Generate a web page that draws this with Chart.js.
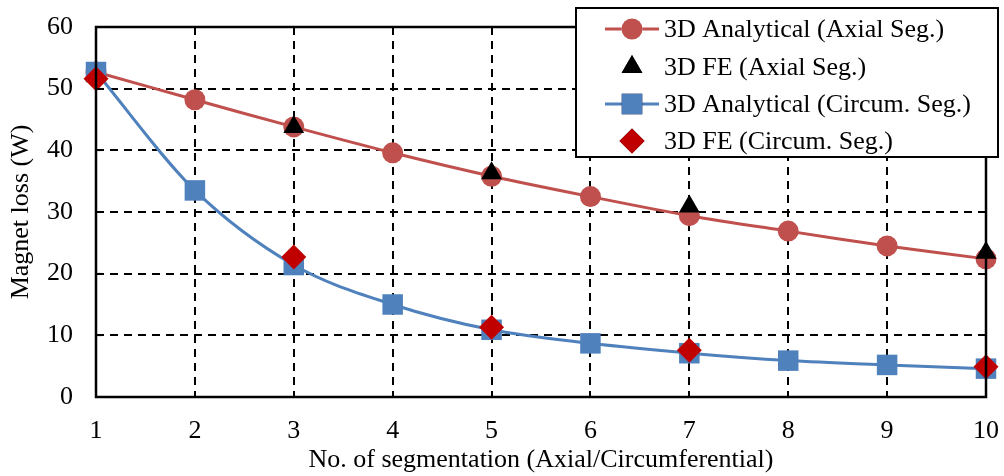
<!DOCTYPE html>
<html>
<head>
<meta charset="utf-8">
<script src="https://cdn.jsdelivr.net/npm/chart.js@4.4.1/dist/chart.umd.min.js"></script>
<style>
  html, body { margin: 0; padding: 0; background: #fff; }
  #wrap { width: 1004px; height: 476px; }
</style>
</head>
<body>
<div id="wrap"><canvas id="lossChart" width="1004" height="476"></canvas></div>
<script>
const segments = [1, 2, 3, 4, 5, 6, 7, 8, 9, 10];
const analyticalAxial = [52.7, 48.2, 43.8, 39.6, 35.8, 32.5, 29.4, 26.9, 24.5, 22.4];
const feAxialSegs = [3, 5, 7, 10];
const feAxial = [43.8, 36.3, 30.9, 23.4];
const analyticalCircum = [52.7, 33.5, 21.4, 15.0, 10.9, 8.7, 7.1, 5.9, 5.2, 4.6];
const feCircumSegs = [1, 3, 5, 7, 10];
const feCircum = [51.6, 22.7, 11.3, 7.6, 4.9];
const yTicks = [0, 10, 20, 30, 40, 50, 60];

const FONT = '"Liberation Serif", "Times New Roman", serif';

function pairs(xs, ys) {
    return xs.map((x, i) => ({ x: x, y: ys[i] }));
}

function noOverflow(scale) {
    scale.paddingTop = 0;
    scale.paddingBottom = 0;
    scale.paddingLeft = 0;
    scale.paddingRight = 0;
}

// box round the plot area and the legend drawn on top of it
const framePlugin = {
    id: 'frame',
    afterDatasetsDraw(chart) {
        const a = chart.chartArea;
        const ctx = chart.ctx;
        ctx.save();
        ctx.strokeStyle = '#000';
        ctx.lineWidth = 2.5;
        ctx.strokeRect(a.left, a.top, a.right - a.left, a.bottom - a.top);
        // small inward ticks on the value axis
        ctx.lineWidth = 1.5;
        chart.scales.y.ticks.forEach(t => {
            const y = chart.scales.y.getPixelForValue(t.value);
            ctx.beginPath();
            ctx.moveTo(a.left, y);
            ctx.lineTo(a.left + 6, y);
            ctx.stroke();
        });
        ctx.restore();
    },
    afterDraw(chart) {
        const ctx = chart.ctx;
        const box = { x: 576, y: 8, w: 422, h: 149 };
        ctx.save();
        ctx.fillStyle = '#fff';
        ctx.fillRect(box.x, box.y, box.w, box.h);
        ctx.strokeStyle = '#000';
        ctx.lineWidth = 2;
        ctx.strokeRect(box.x, box.y, box.w, box.h);
        ctx.font = '26px ' + FONT;
        ctx.textBaseline = 'middle';
        const rowY = [29, 67, 104, 141];
        chart.data.datasets.forEach((ds, i) => {
            const y = rowY[i];
            if (ds.showLine !== false) {
                ctx.strokeStyle = ds.borderColor;
                ctx.lineWidth = 3;
                ctx.beginPath();
                ctx.moveTo(605, y);
                ctx.lineTo(659, y);
                ctx.stroke();
            }
            Chart.helpers.drawPoint(ctx, {
                pointStyle: ds.pointStyle,
                radius: ds.pointRadius,
                borderWidth: 0
            }, 632, y);
            ctx.fillStyle = ds.pointBackgroundColor;
            ctx.fill();
            ctx.fillStyle = '#000';
            ctx.fillText(ds.label, 664, y + 1);
        });
        ctx.restore();
    }
};

const ctx = document.getElementById('lossChart').getContext('2d');
const myChart = new Chart(ctx, {
    type: 'line',
    data: {
        datasets: [{
            label: '3D Analytical (Axial Seg.)',
            data: pairs(segments, analyticalAxial),
            borderColor: '#C0504D',
            pointBackgroundColor: '#C0504D',
            pointBorderWidth: 0,
            pointStyle: 'circle',
            pointRadius: 10.5,
            borderWidth: 3,
            tension: 0.3,
            order: 4
        }, {
            label: '3D FE (Axial Seg.)',
            data: pairs(feAxialSegs, feAxial),
            showLine: false,
            borderColor: '#000',
            pointBackgroundColor: '#000',
            pointBorderWidth: 0,
            pointStyle: 'triangle',
            pointRadius: 12,
            order: 2
        }, {
            label: '3D Analytical (Circum. Seg.)',
            data: pairs(segments, analyticalCircum),
            borderColor: '#4F81BD',
            pointBackgroundColor: '#4F81BD',
            pointBorderWidth: 0,
            pointStyle: 'rect',
            pointRadius: 14.5,
            borderWidth: 3,
            cubicInterpolationMode: 'monotone',
            order: 3
        }, {
            label: '3D FE (Circum. Seg.)',
            data: pairs(feCircumSegs, feCircum),
            showLine: false,
            borderColor: '#C00000',
            pointBackgroundColor: '#C00000',
            pointBorderWidth: 0,
            pointStyle: 'rectRot',
            pointRadius: 12.5,
            order: 1
        }]
    },
    options: {
        responsive: false,
        animation: false,
        clip: false,
        layout: { padding: { left: 0, top: 27, right: 18, bottom: 0 } },
        plugins: {
            legend: { display: false },
            tooltip: { enabled: false }
        },
        scales: {
            x: {
                type: 'linear',
                min: 1,
                max: 10,
                afterFit(scale) { scale.height = 79; noOverflow(scale); },
                ticks: {
                    stepSize: 1,
                    color: '#000',
                    font: { family: FONT, size: 26 },
                    padding: 19
                },
                grid: {
                    color: c => (c.tick && (c.tick.value === 1 || c.tick.value === 10)) ? 'rgba(0,0,0,0)' : '#000',
                    lineWidth: 2,
                    drawTicks: false
                },
                border: { display: false, dash: [8, 6] },
                title: {
                    display: true,
                    text: 'No. of segmentation (Axial/Circumferential)',
                    color: '#000',
                    font: { family: FONT, size: 26 },
                    padding: { top: 0, bottom: 0 }
                }
            },
            y: {
                min: 0,
                max: 60,
                afterFit(scale) { scale.width = 96; noOverflow(scale); },
                afterBuildTicks(scale) { scale.ticks = yTicks.map(v => ({ value: v })); },
                ticks: {
                    color: '#000',
                    font: { family: FONT, size: 26 },
                    padding: 23
                },
                grid: {
                    color: c => (c.tick && (c.tick.value === 0 || c.tick.value === 60)) ? 'rgba(0,0,0,0)' : '#000',
                    lineWidth: 2,
                    drawTicks: false
                },
                border: { display: false, dash: [8, 6] },
                title: {
                    display: true,
                    text: 'Magnet loss (W)',
                    color: '#000',
                    font: { family: FONT, size: 26 },
                    padding: { top: 6, bottom: 0 }
                }
            }
        }
    },
    plugins: [framePlugin]
});
</script>
</body>
</html>
